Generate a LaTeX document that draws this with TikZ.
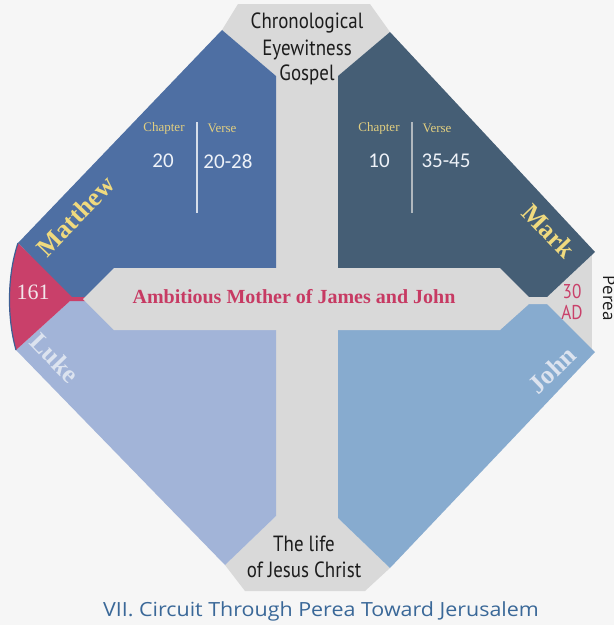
\documentclass[tikz,border=0pt]{standalone}
\usepackage{fontspec}
\setmainfont{Liberation Serif}
\newfontfamily\condsans[FakeStretch=0.86]{PT Sans}
\newfontfamily\numfont{Carlito}
\newfontfamily\titlefont[FakeStretch=1.1]{Open Sans}
\newfontfamily\pereafont{Open Sans}
\definecolor{bgcol}{HTML}{F6F6F6}
\definecolor{crossgray}{HTML}{D9D9D9}
\definecolor{matthewc}{HTML}{4E6FA3}
\definecolor{markc}{HTML}{455E75}
\definecolor{lukec}{HTML}{A2B4D8}
\definecolor{johnc}{HTML}{87ABCF}
\definecolor{redc}{HTML}{C9406A}
\definecolor{arcblue}{HTML}{3D5F94}
\definecolor{textred}{HTML}{C73A63}
\definecolor{goldc}{HTML}{F0DA7E}
\definecolor{goldsmall}{HTML}{E2CF80}
\definecolor{numwhite}{HTML}{EEF2F8}
\definecolor{lightlab}{HTML}{DCE3EF}
\definecolor{titleblue}{HTML}{3A6898}
\definecolor{darktext}{HTML}{1C1C1C}
\definecolor{sepa}{HTML}{D6DEEA}
\definecolor{sepb}{HTML}{B0B8BE}
\definecolor{numred}{HTML}{F2E6EA}
\begin{document}
\begin{tikzpicture}[x=1pt,y=-1pt,
  graytext/.style={font=\condsans\fontsize{22}{26}\selectfont, text=darktext, anchor=base, inner sep=0pt},
  gospelname/.style={font=\bfseries\fontsize{26}{30}\selectfont, inner sep=0pt},
  smalllab/.style={font=\fontsize{13}{15}\selectfont, text=goldsmall, inner sep=0pt},
  numlab/.style={font=\numfont\fontsize{21}{24}\selectfont, text=numwhite, inner sep=0pt},
  seprule/.style={line width=1.5pt}]
\fill[bgcol] (0,0) rectangle (614,625);
\useasboundingbox (0,0) rectangle (614,625);
% gray vertical bar with top and bottom caps
\fill[crossgray] (222,30)--(238,4)--(370,4)--(390,32)--(338,76)--(338,518)--(390,568)--(365,591)--(245,591)--(225,565)--(276,516)--(276,76)--cycle;
% gray strip at right
\fill[crossgray] (520,250) rectangle (592,352);
% quadrants
\fill[matthewc] (18,243)--(222,30)--(276,76)--(276,297)--(70,297)--cycle;
\fill[markc] (390,32)--(595,252)--(547,297)--(338,297)--(338,76)--cycle;
\fill[lukec] (70,301)--(276,301)--(276,516)--(225,565)--(16,350)--cycle;
\fill[johnc] (338,304)--(547,304)--(595,352)--(390,568)--(338,518)--cycle;
% red segment
\fill[redc] (18,243)--(72,297)--(90,297)--(90,301)--(70,301)--(16,350) .. controls (7,318) and (7,276) .. (18,243)--cycle;
\draw[arcblue, line width=1.2pt] (16,350) .. controls (7,318) and (7,276) .. (18,243);
% horizontal bar
\fill[crossgray] (83,299)--(114,268)--(500,268)--(529,297)--(560,297)--(560,304)--(529,304)--(500,330)--(114,330)--cycle;
% separators
\draw[seprule, sepa] (197,122)--(197,213);
\draw[seprule, sepb] (412,122)--(412,213);
% top and bottom texts
\node[graytext] (t1) at (307,28) {Chronological};
\node[graytext] (t2) at (307,55) {Eyewitness};
\node[graytext] (t3) at (307,80) {Gospel};
\node[graytext] (b1) at (304,551) {The life};
\node[graytext] (b2) at (304,577) {of Jesus Christ};
% gospel names
\node[gospelname, text=goldc, rotate=46] (matthew) at (76,216) {Matthew};
\node[gospelname, text=goldc, rotate=-46] (mark) at (549,231) {Mark};
\node[gospelname, text=lightlab, rotate=-46] (luke) at (55,358) {Luke};
\node[gospelname, text=lightlab, rotate=44] (john) at (552,370) {John};
% chapter / verse
\node[smalllab] (mtch) at (164,128) {Chapter};
\node[smalllab] (mtvs) at (222,128) {Verse};
\node[numlab] (mtc) at (163,161) {20};
\node[numlab] (mtv) at (228,161) {20-28};
\node[smalllab] (mkch) at (379,128) {Chapter};
\node[smalllab] (mkvs) at (437,128) {Verse};
\node[numlab] (mkc) at (379,161) {10};
\node[numlab] (mkv) at (446,161) {35-45};
% central texts
\node[font=\bfseries\fontsize{20}{22}\selectfont, text=textred, inner sep=0pt] (amb) at (294,297) {Ambitious Mother of James and John};
\node[font=\fontsize{22}{24}\selectfont, text=numred, inner sep=0pt] (num) at (33,292) {161};
\node[font=\condsans\fontsize{20}{21}\selectfont, text=redc, inner sep=0pt] (yr1) at (572,291) {30};
\node[font=\condsans\fontsize{20}{21}\selectfont, text=redc, inner sep=0pt] (yr2) at (572,312) {AD};
\node[font=\pereafont\fontsize{17}{20}\selectfont, text=darktext, rotate=-90, inner sep=0pt] (perea) at (609,298) {Perea};
\node[font=\titlefont\fontsize{19.5}{22}\selectfont, text=titleblue, anchor=base, inner sep=0pt] (title) at (321,616) {VII. Circuit Through Perea Toward Jerusalem};
\end{tikzpicture}
\end{document}
